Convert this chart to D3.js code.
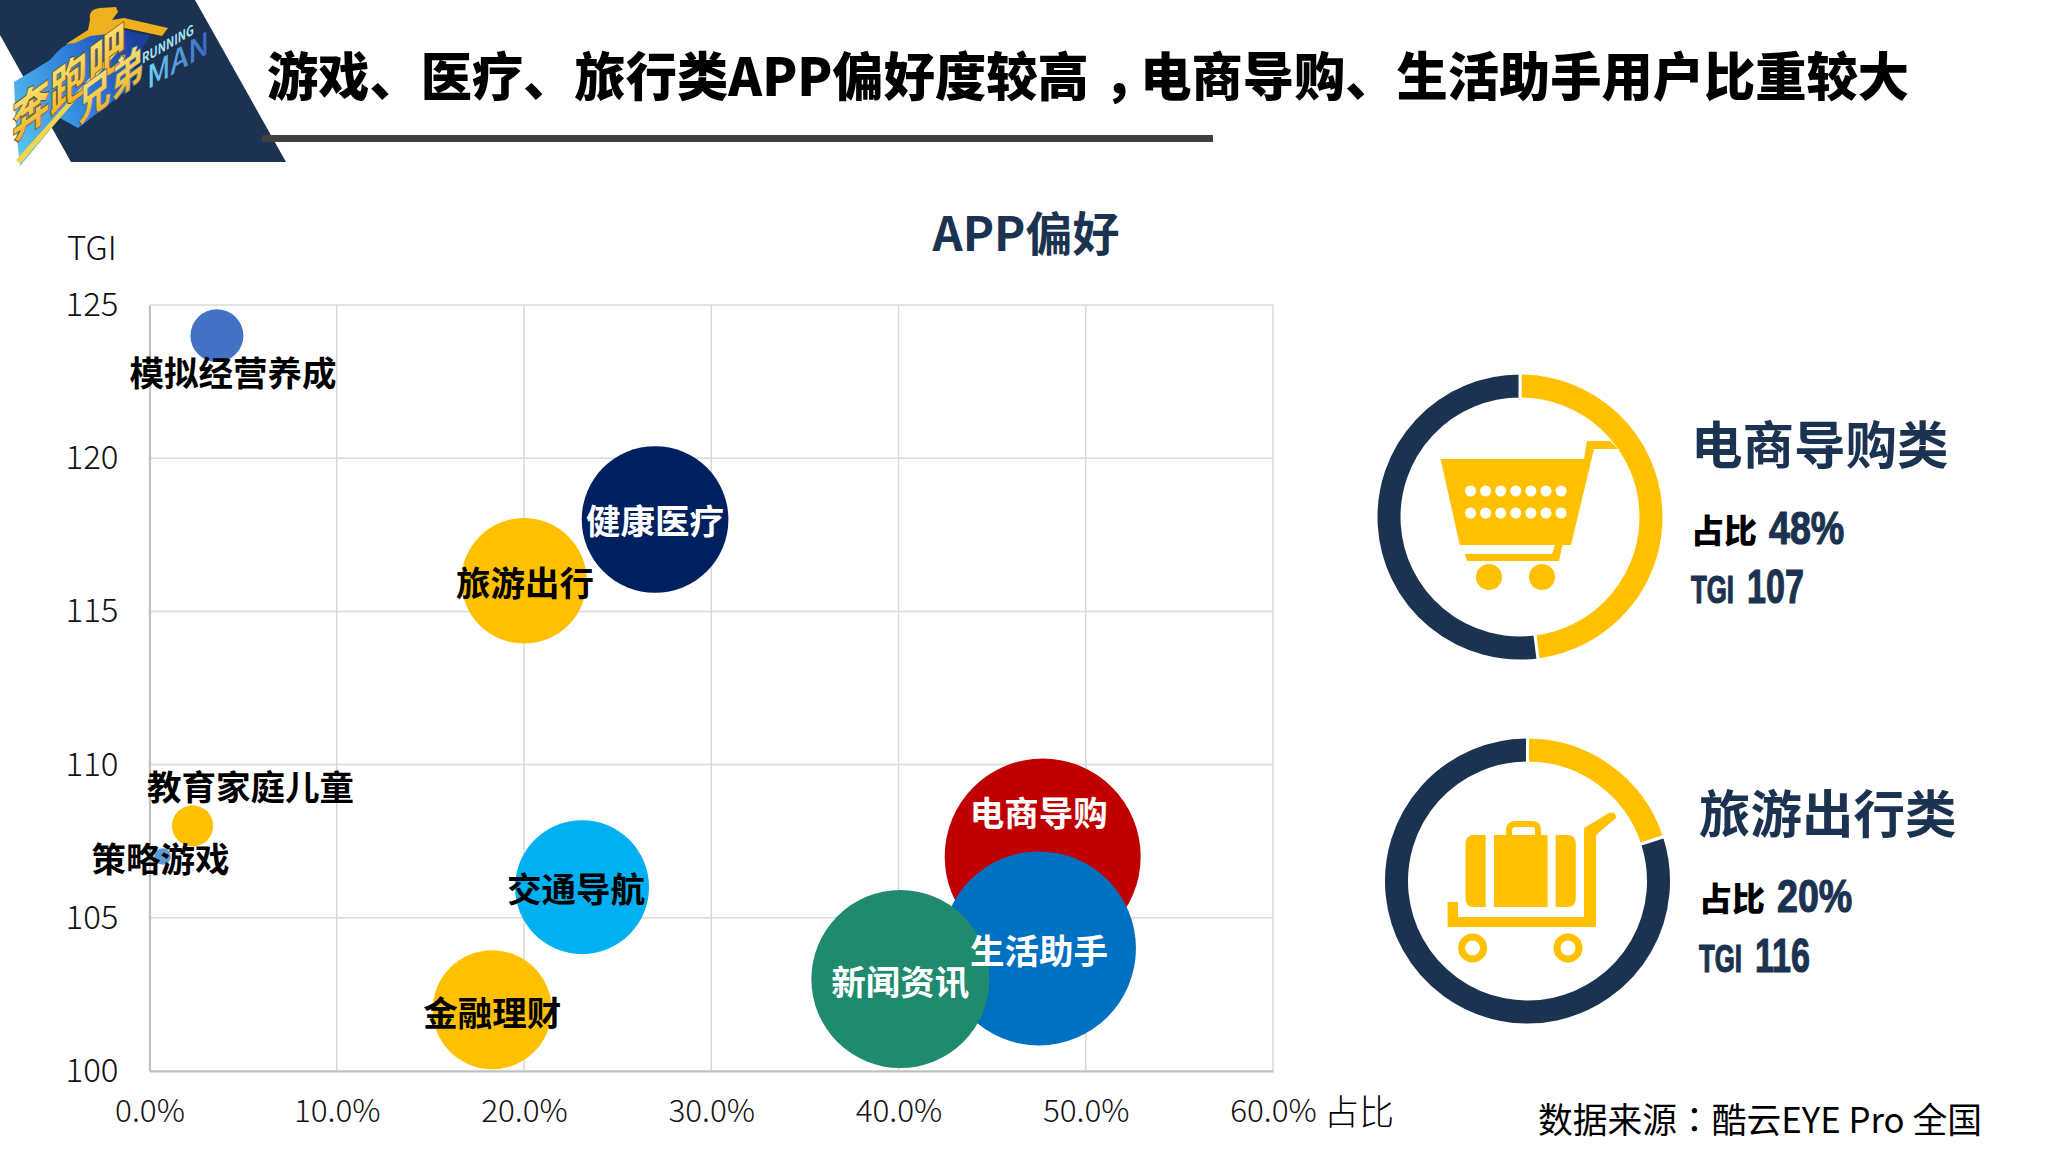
<!DOCTYPE html>
<html>
<head>
<meta charset="utf-8">
<script src="https://cdn.jsdelivr.net/npm/d3@7"></script>
<style>
  html, body { margin: 0; padding: 0; background: #fff; }
  svg { display: block; }
  text { font-family: "Noto Sans CJK SC", "Noto Sans", sans-serif; }
  .lab { font-weight: 700; font-size: 34.5px; text-anchor: middle; dominant-baseline: central; }
  .tick { font-size: 33px; font-weight: 300; fill: #111; }
  .big { font-family: "Liberation Sans", sans-serif; font-weight: 700; fill: #1b3250; stroke: #1b3250; stroke-width: 1.2px; }
</style>
</head>
<body>
<svg id="chart" width="2048" height="1152"></svg>
<script>
// bubble data
var apps = ["模拟经营养成", "健康医疗", "旅游出行", "电商导购", "生活助手", "新闻资讯", "交通导航", "金融理财", "教育家庭儿童", "策略游戏"];
var share = [3.6, 27, 20, 47.7, 47.5, 40.1, 23.1, 18.3, 2.3, 0.7];
var tgi = [124, 118, 116, 107, 104, 103, 106, 102, 108, 107];
var bubbleSize = [7.3, 56, 41, 100, 98, 82.5, 46.7, 36.9, 4.4, 0.7];

var xTicks = [0, 10, 20, 30, 40, 50, 60];
var yTicks = [100, 105, 110, 115, 120, 125];

// the two donuts
var donutNames = ["电商导购类", "旅游出行类"];
var donutShare = [48, 20];
var donutTgi = [107, 116];

var navy = "#1b3250", gold = "#ffc000";
var bubbleColors = ["#4472c4", "#002060", "#ffc000", "#c00000", "#0070c0", "#1f8a6d", "#00b0f0", "#ffc000", "#ffc000", "#5b9bd5"];
var labelColors = ["#000", "#fff", "#000", "#fff", "#fff", "#fff", "#000", "#000", "#000", "#000"];
// label position relative to bubble centre
var labelDx = [16, 0, 1, -4, 0, 0, -6, 0, 58, -2];
var labelDy = [35, 0, 0, -46, 1, 1, 0, 1, -41, 0];

var svg = d3.select("#chart");

// header block
svg.append("polygon").attr("points", "0,0 195,0 286,162 71,162 0,35 0,0").attr("fill", navy);
drawLogo();

svg.append("rect").attr("x", 262).attr("y", 135).attr("width", 951).attr("height", 7).attr("fill", "#404040");
var title = svg.append("text").attr("x", 267).attr("y", 73)
  .attr("dominant-baseline", "central")
  .attr("font-size", 52).attr("font-weight", 900).attr("fill", "#000")
  .attr("textLength", 1642).attr("lengthAdjust", "spacingAndGlyphs");
title.append("tspan").text("游戏、医疗、旅行类APP偏好度较高");
title.append("tspan").attr("dx", 15).text("，");
title.append("tspan").attr("dx", -15).text("电商导购、生活助手用户比重较大");

svg.append("text").attr("x", 1026).attr("y", 230)
  .attr("text-anchor", "middle").attr("dominant-baseline", "central")
  .attr("font-size", 47).attr("font-weight", 700).attr("fill", navy)
  .text("APP偏好");

// bubble chart
var x = d3.scaleLinear().domain([0, 60]).range([149.5, 1273]);
var y = d3.scaleLinear().domain([100, 125]).range([1071, 305]);
var r = d3.scaleSqrt().domain([0, 100]).range([0, 98]);

var xAxis = d3.axisBottom(x).tickValues(xTicks).tickSize(0).tickPadding(29).tickFormat(function(d){ return d.toFixed(1) + "%"; });
var yAxis = d3.axisLeft(y).tickValues(yTicks).tickSize(0).tickPadding(31);

var grid = svg.append("g");
grid.selectAll(".gx").data(xTicks).enter().append("line")
  .attr("x1", x).attr("x2", x).attr("y1", y(100)).attr("y2", y(125))
  .attr("stroke", "#d9d9d9").attr("stroke-width", 1.5);
grid.selectAll(".gy").data(yTicks).enter().append("line")
  .attr("y1", y).attr("y2", y).attr("x1", x(0)).attr("x2", x(60))
  .attr("stroke", "#d9d9d9").attr("stroke-width", 1.5);

var gx = svg.append("g").attr("transform", "translate(0," + y(100) + ")").call(xAxis);
gx.select(".domain").attr("stroke", "#bfbfbf").attr("stroke-width", 2);
gx.selectAll("text").attr("class", "tick").attr("fill", "#111").style("font-size", "31.5px");
var gy = svg.append("g").attr("transform", "translate(" + x(0) + ",0)").call(yAxis);
gy.select(".domain").attr("stroke", "#bfbfbf").attr("stroke-width", 2);
gy.selectAll("text").attr("class", "tick").attr("fill", "#111");

svg.append("text").attr("x", 67).attr("y", 246).attr("dominant-baseline", "central")
  .attr("class", "tick").text("TGI");
svg.append("text").attr("x", 1324).attr("y", 1109).attr("dominant-baseline", "central")
  .attr("font-size", 35).attr("font-weight", 300).text("占比");
var source = svg.append("text").attr("x", 1538).attr("y", 1117).attr("dominant-baseline", "central")
  .attr("font-size", 35).attr("font-weight", 400).attr("textLength", 444).attr("lengthAdjust", "spacingAndGlyphs");
source.append("tspan").text("数据来源");
source.append("tspan").style("font-family", "Noto Sans CJK TC").text("：");
source.append("tspan").text("酷云EYE Pro 全国");

var idx = d3.range(apps.length);
svg.append("g").selectAll("circle").data(idx).enter().append("circle")
  .attr("cx", function(i){ return x(share[i]); })
  .attr("cy", function(i){ return y(tgi[i]); })
  .attr("r", function(i){ return r(bubbleSize[i]); })
  .attr("fill", function(i){ return bubbleColors[i]; });

svg.append("g").selectAll("text").data(idx).enter().append("text")
  .attr("class", "lab")
  .attr("x", function(i){ return x(share[i]) + labelDx[i]; })
  .attr("y", function(i){ return y(tgi[i]) + labelDy[i]; })
  .attr("fill", function(i){ return labelColors[i]; })
  .text(function(i){ return apps[i]; });

// donuts
var pie = d3.pie().sort(null);
var arc = d3.arc().innerRadius(118).outerRadius(144);
var donutX = [1520, 1527.5], donutY = [517, 881];
donutShare.forEach(function(v, i){
  var g = svg.append("g").attr("transform", "translate(" + donutX[i] + "," + donutY[i] + ")");
  g.selectAll("path").data(pie([v, 100 - v])).enter().append("path")
    .attr("d", arc)
    .attr("fill", function(d, j){ return j == 0 ? gold : navy; })
    .attr("stroke", "#fff").attr("stroke-width", 3);
});
drawCart();
drawTrolley();

// squeezed heavy figures next to the donuts
function bigText(px, py, size, sx, str){
  svg.append("text").attr("class", "big").attr("font-size", size)
    .attr("transform", "translate(" + px + "," + py + ") scale(" + sx + ",1)")
    .text(str);
}

var textX = [1691, 1699], nameY = [441, 810], shareY = [527, 895], tgiY = [585, 954];
donutNames.forEach(function(n, i){
  svg.append("text").attr("x", textX[i]).attr("y", nameY[i]).attr("dominant-baseline", "central")
    .attr("font-size", 51.5).attr("font-weight", 700).attr("fill", navy).text(n);
  svg.append("text").attr("x", textX[i]).attr("y", shareY[i] + 2).attr("dominant-baseline", "central")
    .attr("font-size", 33).attr("font-weight", 900).attr("fill", "#000").text("占比");
  bigText(textX[i] + 78, shareY[i] + 17, 47, 0.8, donutShare[i] + "%");
  bigText(textX[i], tgiY[i] + 18, 38, 0.68, "TGI");
  bigText(textX[i] + 56, tgiY[i] + 18, 48, 0.71, donutTgi[i]);
});

function drawCart(){
  var g = svg.append("g").attr("fill", gold).attr("transform", "translate(-2,0)");
  g.append("polygon").attr("points", "1442.6,459 1586,459 1589,441 1612,441 1620,449 1596,449 1573,545 1461.8,545");
  g.append("polygon").attr("points", "1467,554 1554,554 1557,545 1564.5,545 1561,561 1469,561");
  g.selectAll("circle.w").data([1491, 1544]).enter().append("circle")
    .attr("cx", function(d){ return d; }).attr("cy", 577).attr("r", 13);
  var dots = [];
  [491, 513].forEach(function(yy){
    d3.range(7).forEach(function(k){ dots.push([1472.5 + k * 15.1, yy]); });
  });
  g.selectAll("circle.d").data(dots).enter().append("circle")
    .attr("cx", function(d){ return d[0]; }).attr("cy", function(d){ return d[1]; })
    .attr("r", 5.5).attr("fill", "#fff");
}

function drawTrolley(){
  var g = svg.append("g").attr("fill", gold).attr("transform", "translate(-3,0)");
  g.append("path").attr("d", "M1450.6,902 H1461 V917 H1587 V828 L1612,813 Q1619,811 1619,818 L1599,835 V927 H1450.6 Z");
  g.append("rect").attr("x", 1497).attr("y", 835).attr("width", 53.6).attr("height", 72);
  g.append("path").attr("d", "M1488.6,835 V907 H1477 Q1468.5,907 1468.5,898 V844 Q1468.5,835 1477,835 Z");
  g.append("path").attr("d", "M1558.7,835 V907 H1570 Q1578.8,907 1578.8,898 V844 Q1578.8,835 1570,835 Z");
  g.append("path").attr("d", "M1512,835 V830 Q1512,824 1519,824 H1535 Q1541,824 1541,830 V835")
    .attr("fill", "none").attr("stroke", gold).attr("stroke-width", 6);
  g.selectAll("circle.w").data([1475.6, 1571]).enter().append("circle")
    .attr("cx", function(d){ return d; }).attr("cy", 948).attr("r", 11)
    .attr("fill", "#fff").attr("stroke", gold).attr("stroke-width", 7);
}

function drawLogo(){
  var defs = svg.append("defs");
  var b = defs.append("linearGradient").attr("id", "lb").attr("x1", 0).attr("y1", 0.8).attr("x2", 1).attr("y2", 0.3);
  b.append("stop").attr("offset", 0).attr("stop-color", "#55c4f0");
  b.append("stop").attr("offset", 0.55).attr("stop-color", "#2f7fdc");
  b.append("stop").attr("offset", 1).attr("stop-color", "#1d3f9c");
  var y1 = defs.append("linearGradient").attr("id", "ly").attr("x1", 0).attr("y1", 0).attr("x2", 0).attr("y2", 1);
  y1.append("stop").attr("offset", 0).attr("stop-color", "#fff28a");
  y1.append("stop").attr("offset", 1).attr("stop-color", "#eda81a");
  var m = defs.append("linearGradient").attr("id", "lm").attr("x1", 0).attr("y1", 0).attr("x2", 1).attr("y2", 0);
  m.append("stop").attr("offset", 0).attr("stop-color", "#6fd6f5");
  m.append("stop").attr("offset", 1).attr("stop-color", "#3a62c8");

  var g = svg.append("g");
  // blue swoosh behind the letters
  g.append("path").attr("fill", "url(#lb)")
    .attr("d", "M14,82 L50,60 Q62,45 72,42 Q95,25 125,30 L150,36 L135,60 L130,88 L78,128 L60,118 L20,166 L16,130 Z");
  // runner
  g.append("path").attr("fill", "#eeb01e")
    .attr("d", "M66,44 L88,30 L90,20 Q88,9 100,8 L116,7 L118,12 L112,20 L124,18 L168,28 L162,36 L120,27 L108,34 L90,36 L75,43 Z");
  // gold stripe
  g.append("polygon").attr("points", "16,160 120,44 122,47 20,164").attr("fill", "#f6d44a");
  // lettering
  g.append("g").attr("transform", "translate(12,142) skewY(-36) scale(1,1.3)").append("text")
    .attr("font-size", 38).attr("font-weight", 900).attr("fill", "url(#ly)")
    .attr("stroke", "#6b3d0c").attr("stroke-width", 0.6).text("奔跑吧");
  g.append("g").attr("transform", "translate(78,124) skewY(-36) scale(1,1.3)").append("text")
    .attr("font-size", 33).attr("font-weight", 900).attr("fill", "url(#ly)")
    .attr("stroke", "#2a5fb0").attr("stroke-width", 0.6).text("兄弟");
  g.append("g").attr("transform", "translate(142,64) skewY(-30)").append("text")
    .attr("font-size", 14).attr("font-weight", 700).attr("fill", "#a6e4f7")
    .attr("textLength", 52).attr("lengthAdjust", "spacingAndGlyphs").text("RUNNING");
  g.append("g").attr("transform", "translate(147,90) skewY(-31) scale(1,1.3)").append("text")
    .attr("font-size", 24).attr("font-weight", 500).attr("fill", "url(#lm)")
    .attr("textLength", 62).attr("lengthAdjust", "spacingAndGlyphs").text("MAN");
}
</script>
</body>
</html>
